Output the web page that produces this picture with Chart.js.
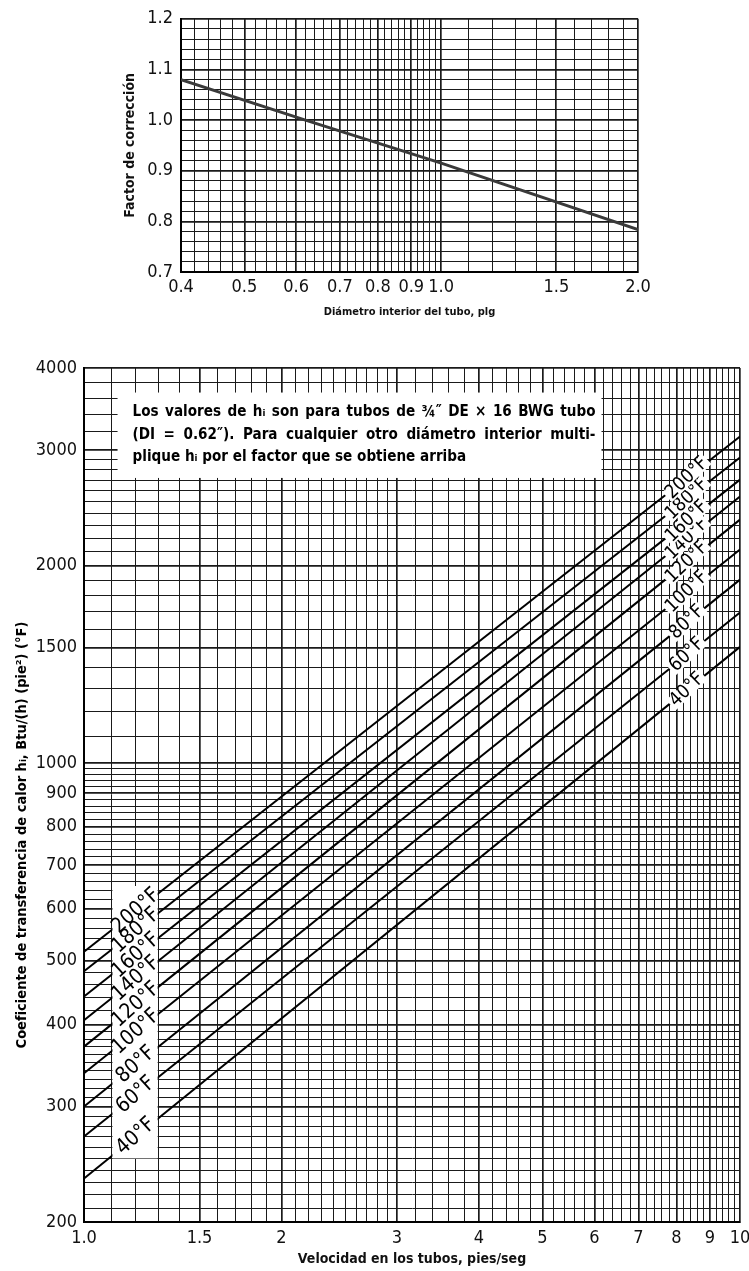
<!DOCTYPE html>
<html lang="es">
<head>
<meta charset="utf-8">
<title>Coeficiente de transferencia de calor en tubos</title>
<script src="https://cdn.jsdelivr.net/npm/chart.js@4.4.1/dist/chart.umd.min.js"></script>
<style>
  html, body { margin: 0; padding: 0; background: #fff; }
  #grafico1 { position: absolute; left: 0; top: 0; }
  #grafico2 { position: absolute; left: 0; top: 330px; }
</style>
</head>
<body>
<canvas id="grafico1" width="749" height="330"></canvas>
<canvas id="grafico2" width="749" height="941"></canvas>
<script>
// Datos
// Grafico superior: factor de correccion vs diametro interior
const diametros = [0.4, 0.62, 1.0, 2.0];
const factores = [1.08, 1.0, 0.915, 0.784];
const etiquetasDiam = [0.4, 0.5, 0.6, 0.7, 0.8, 0.9, 1.0, 1.5, 2.0];
const etiquetasFactor = [0.7, 0.8, 0.9, 1.0, 1.1, 1.2];

// Grafico inferior: h vs velocidad, una recta por temperatura
const temperaturas = ['40°F', '60°F', '80°F', '100°F', '120°F', '140°F', '160°F', '180°F', '200°F'];
const velocidades = [1.0, 10];
const hEnV1 = [233, 270, 300, 337, 370, 406, 441, 482, 516];
const hEnV10 = [1504, 1697, 1904, 2116, 2350, 2548, 2704, 2922, 3146];
const etiquetasVel = [1, 1.5, 2, 3, 4, 5, 6, 7, 8, 9, 10];
const etiquetasH = [200, 300, 400, 500, 600, 700, 800, 900, 1000, 1500, 2000, 3000, 4000];

const notaLineas = [
  'Los valores de hᵢ son para tubos de ¾″ DE × 16 BWG tubo',
  '(DI = 0.62″). Para cualquier otro diámetro interior multi-',
  'plique hᵢ por el factor que se obtiene arriba'
];

const fuenteNum = "'Liberation Sans Narrow', 'DejaVu Sans Condensed', sans-serif";
const fuenteTxt = "'DejaVu Sans Condensed', 'Liberation Sans Narrow', sans-serif";
const fuenteNota = "'DejaVu Sans Condensed', 'Liberation Sans', sans-serif";

// lineas de la cuadricula (papel milimetrado)
let pasos = (desde, hasta, paso) => {
  let r = [];
  for (let v = desde; v <= hasta + paso / 2; v += paso) r.push(Math.round(v * 1000) / 1000);
  return r;
};
let unir = (...listas) => [...new Set(listas.flat())].sort((a, b) => a - b);
let esEtiqueta = (lista, v) => lista.some(e => Math.abs(e - v) < 1e-6);

const lineasDiam = unir(pasos(0.4, 1.0, 0.02), pasos(1.0, 2.0, 0.1));
const lineasFactor = pasos(0.7, 1.2, 0.02);
const lineasVel = unir(pasos(1, 3, 0.1), pasos(3, 10, 0.2));
const lineasH = unir(pasos(200, 400, 10), pasos(400, 1000, 20), pasos(1000, 3000, 100), pasos(3000, 4000, 200));

let rejilla = (etiquetas) => ({
  color: '#1a1a1a',
  lineWidth: c => (c.tick && esEtiqueta(etiquetas, c.tick.value)) ? 1.7 : 1,
  drawTicks: false
});

Chart.defaults.color = '#111';

// ---------- grafico superior ----------
new Chart(document.getElementById('grafico1'), {
  type: 'line',
  data: {
    datasets: [{
      data: diametros.map((d, i) => ({ x: d, y: factores[i] })),
      borderColor: '#3a3a3a',
      borderWidth: 3,
      pointRadius: 0
    }]
  },
  options: {
    responsive: false,
    animation: false,
    layout: { padding: { top: 17, right: 111, left: 0, bottom: 0 } },
    plugins: { legend: { display: false }, tooltip: { enabled: false } },
    scales: {
      x: {
        type: 'logarithmic', min: 0.4, max: 2.0,
        afterBuildTicks: ax => { ax.ticks = lineasDiam.map(v => ({ value: v })); },
        afterFit: ax => { ax.height = 58; },
        grid: rejilla(etiquetasDiam),
        border: { color: '#000', width: 2 },
        ticks: {
          autoSkip: false, maxRotation: 0, padding: 5,
          font: { family: fuenteNum, size: 18 },
          callback: v => esEtiqueta(etiquetasDiam, v) ? v.toFixed(1) : ''
        },
        title: {
          display: true, text: 'Diámetro interior del tubo, plg',
          font: { family: fuenteTxt, size: 11, weight: 'bold' },
          padding: { top: 0, bottom: 11 }
        }
      },
      y: {
        type: 'linear', min: 0.7, max: 1.2,
        afterBuildTicks: ax => { ax.ticks = lineasFactor.map(v => ({ value: v })); },
        afterFit: ax => { ax.width = 181; },
        grid: rejilla(etiquetasFactor),
        border: { color: '#000', width: 2 },
        ticks: {
          autoSkip: false, padding: 8,
          font: { family: fuenteNum, size: 18 },
          callback: v => esEtiqueta(etiquetasFactor, v) ? v.toFixed(1) : ''
        },
        title: {
          display: true, text: 'Factor de corrección',
          font: { family: fuenteTxt, size: 14, weight: 'bold' },
          padding: { top: 122, bottom: 0 }
        }
      }
    }
  }
});

// ---------- grafico inferior ----------
let yEnCurva = (meta, px) => {
  let p = meta.data;
  for (let k = 0; k < p.length - 1; k++) {
    if (px >= p[k].x && px <= p[k + 1].x) {
      let t = (px - p[k].x) / (p[k + 1].x - p[k].x);
      return p[k].y + t * (p[k + 1].y - p[k].y);
    }
  }
  return p[p.length - 1].y;
};

let textoGirado = (ctx, texto, x, y, angulo, fondo) => {
  ctx.save();
  ctx.translate(x, y);
  ctx.rotate(-angulo * Math.PI / 180);
  let w = ctx.measureText(texto).width;
  if (fondo) {
    ctx.fillStyle = '#fff';
    ctx.fillRect(-w / 2 - 2, -7, w + 4, 14);
  }
  ctx.fillStyle = '#000';
  ctx.textAlign = 'center';
  ctx.textBaseline = 'middle';
  ctx.fillText(texto, 0, 0);
  ctx.restore();
};

const pluginNotas = {
  id: 'notas',
  beforeDatasetsDraw(chart, args, o) {
    const { ctx, scales: { x, y } } = chart;
    let l = x.getPixelForValue(o.caja.x0), r = x.getPixelForValue(o.caja.x1);
    let t = y.getPixelForValue(o.caja.y0), b = y.getPixelForValue(o.caja.y1);
    ctx.save();
    ctx.fillStyle = '#fff';
    ctx.fillRect(l, t, r - l, b - t);
    ctx.fillStyle = '#000';
    let ancho = r - l - 21;
    // tamaño de letra ajustado para que la primera linea llene casi todo el ancho
    ctx.font = 'bold 14px ' + fuenteNota;
    let tam = 14 * (ancho * 0.95) / ctx.measureText(notaLineas[0]).width;
    tam = Math.min(Math.max(tam, 12), 16);
    ctx.font = 'bold ' + tam.toFixed(1) + 'px ' + fuenteNota;
    ctx.textBaseline = 'middle';
    notaLineas.forEach((linea, i) => {
      let yy = t + 20 + i * 22.5;
      let xx = l + 15;
      if (i < notaLineas.length - 1) {
        let palabras = linea.split(' ');
        let suma = palabras.reduce((s, p) => s + ctx.measureText(p).width, 0);
        let hueco = Math.max((ancho - suma) / (palabras.length - 1), ctx.measureText(' ').width);
        palabras.forEach(p => { ctx.fillText(p, xx, yy); xx += ctx.measureText(p).width + hueco; });
      } else {
        ctx.fillText(linea, xx, yy);
      }
    });
    ctx.restore();
  },
  afterDatasetsDraw(chart, args, o) {
    const { ctx, scales: { x, y }, chartArea } = chart;
    ctx.save();
    // franja blanca de las etiquetas de la izquierda
    let l = x.getPixelForValue(o.franja.x0), r = x.getPixelForValue(o.franja.x1);
    let t = y.getPixelForValue(o.franja.y0), b = y.getPixelForValue(o.franja.y1);
    ctx.fillStyle = '#fff';
    ctx.fillRect(l, t, r - l, b - t);
    temperaturas.forEach((temp, i) => {
      let meta = chart.getDatasetMeta(i);
      ctx.font = '21px ' + fuenteNum;
      let px = x.getPixelForValue(o.xIzq);
      textoGirado(ctx, temp, px, yEnCurva(meta, px), 42, false);
      ctx.font = '19px ' + fuenteNum;
      px = x.getPixelForValue(o.xDer);
      textoGirado(ctx, temp, px, yEnCurva(meta, px), 44, true);
    });
    // titulo del eje y
    ctx.font = 'bold 14.5px ' + fuenteTxt;
    ctx.translate(22, (chartArea.top + chartArea.bottom) / 2 + 40);
    ctx.rotate(-Math.PI / 2);
    ctx.fillStyle = '#000';
    ctx.textAlign = 'center';
    ctx.textBaseline = 'middle';
    ctx.fillText(o.tituloY, 0, 0);
    ctx.restore();
  }
};

new Chart(document.getElementById('grafico2'), {
  type: 'line',
  data: {
    datasets: temperaturas.map((temp, i) => ({
      label: temp,
      data: [{ x: velocidades[0], y: hEnV1[i] }, { x: velocidades[1], y: hEnV10[i] }],
      borderColor: '#000',
      borderWidth: 2,
      pointRadius: 0
    }))
  },
  plugins: [pluginNotas],
  options: {
    responsive: false,
    animation: false,
    layout: { padding: { top: 38, right: 9, left: 0, bottom: 0 } },
    plugins: {
      legend: { display: false },
      tooltip: { enabled: false },
      notas: {
        caja: { x0: 1.125, x1: 6.15, y0: 3670, y1: 2720 },
        franja: { x0: 1.105, x1: 1.295, y0: 650, y1: 250 },
        xIzq: 1.2,
        xDer: 8.3,
        tituloY: 'Coeficiente de transferencia de calor hᵢ, Btu/(h) (pie²) (°F)'
      }
    },
    scales: {
      x: {
        type: 'logarithmic', min: 1, max: 10,
        afterBuildTicks: ax => { ax.ticks = lineasVel.map(v => ({ value: v })); },
        afterFit: ax => { ax.height = 49; ax.paddingRight = 0; },
        grid: rejilla(etiquetasVel),
        border: { color: '#000', width: 2 },
        ticks: {
          autoSkip: false, maxRotation: 0, padding: 6,
          font: { family: fuenteNum, size: 18 },
          callback: v => esEtiqueta(etiquetasVel, v) ? (v < 2 ? v.toFixed(1) : String(v)) : ''
        },
        title: {
          display: true, text: 'Velocidad en los tubos, pies/seg',
          font: { family: fuenteTxt, size: 14, weight: 'bold' },
          padding: { top: 0, bottom: 3 }
        }
      },
      y: {
        type: 'logarithmic', min: 200, max: 4000,
        afterBuildTicks: ax => { ax.ticks = lineasH.map(v => ({ value: v })); },
        afterFit: ax => { ax.width = 84; },
        grid: rejilla(etiquetasH),
        border: { color: '#000', width: 2 },
        ticks: {
          autoSkip: false, padding: 7,
          font: { family: fuenteNum, size: 18 },
          callback: v => esEtiqueta(etiquetasH, v) ? String(v) : ''
        }
      }
    }
  }
});
</script>
</body>
</html>
